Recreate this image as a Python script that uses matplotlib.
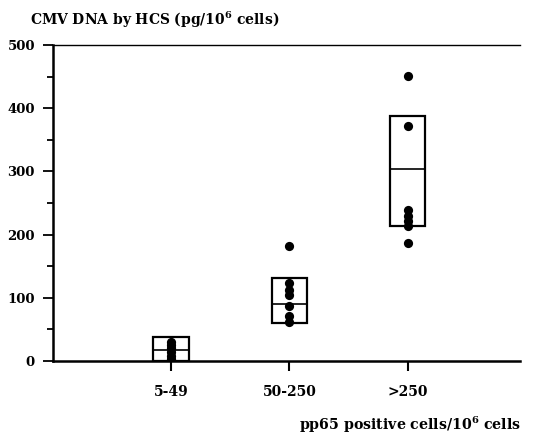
import matplotlib
matplotlib.use("Agg")
import matplotlib.pyplot as plt
from matplotlib.ticker import MultipleLocator

plt.rcParams['font.family'] = ['DejaVu Serif']
plt.rcParams['mathtext.fontset'] = 'dejavuserif'
plt.rcParams['mathtext.default'] = 'bf'

categories = ["5-49", "50-250", ">250"]
points_5_49 = [3, 8, 14, 20, 26, 30]
points_50_250 = [182, 123, 113, 105, 87, 72, 62]
points_gt250 = [451, 372, 239, 230, 222, 214, 186]
box_low = [0, 60, 214]
box_mid = [18, 91, 304]
box_high = [38, 132, 388]
y_ticks = [0, 100, 200, 300, 400, 500]

fig = plt.figure(figsize=(5.33, 4.38), dpi=100)
ax = fig.add_axes([0.0994, 0.1758, 0.8762, 0.7212])

xpos = [1, 2, 3]
width = 0.3
ax.bar(xpos, [h - l for h, l in zip(box_high, box_low)], bottom=box_low,
       width=width, fill=False, edgecolor='black', linewidth=1.6, zorder=2)
ax.hlines(box_mid, [x - width / 2 for x in xpos], [x + width / 2 for x in xpos],
          color='black', linewidth=1.2, zorder=2)

for x, pts in zip(xpos, [points_5_49, points_50_250, points_gt250]):
    ax.scatter([x] * len(pts), pts, s=44, color='black', zorder=3, linewidths=0)

ax.set_xlim(0, 3.95)
ax.set_ylim(0, 500)
ax.set_xticks(xpos)
ax.set_xticklabels(categories, fontweight='bold', fontsize=10)
ax.set_yticks(y_ticks)
ax.yaxis.set_minor_locator(MultipleLocator(50))
ax.set_yticklabels([str(v) for v in y_ticks], fontweight='bold', fontsize=9.5)

ax.spines['right'].set_visible(False)
ax.spines['left'].set_linewidth(1.8)
ax.spines['bottom'].set_linewidth(1.8)
ax.spines['top'].set_linewidth(1.0)
ax.tick_params(axis='x', direction='out', length=7, width=1.5, pad=10)
ax.tick_params(axis='y', which='major', direction='out', length=7, width=1.3, pad=6)
ax.tick_params(axis='y', which='minor', direction='out', length=4, width=1.3)

fig.text(0.056, 0.955, r"CMV DNA by HCS (pg/10$^{6}$ cells)", fontsize=10,
         fontweight='bold', ha='left', va='center')
fig.text(0.977, 0.03, r"pp65 positive cells/10$^{6}$ cells", fontsize=10.2,
         fontweight='bold', ha='right', va='center')

fig.savefig("out.png", dpi=100)
